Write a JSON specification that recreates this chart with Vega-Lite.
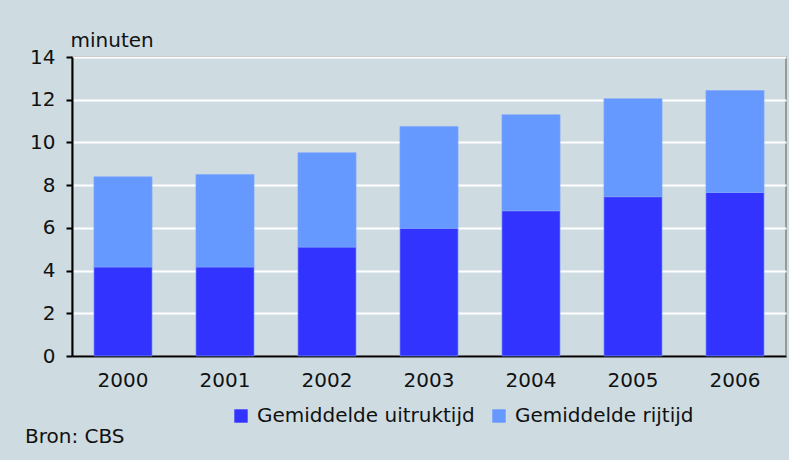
{
  "$schema": "https://vega.github.io/schema/vega-lite/v6.json",
  "width": 714,
  "height": 299,
  "autosize": "none",
  "padding": {"left": 72, "top": 57, "right": 3, "bottom": 104},
  "background": "#cedce2",
  "config": {
    "font": "DejaVu Sans",
    "view": {"stroke": "#999999", "strokeWidth": 2},
    "axis": {"labelFont": "DejaVu Sans", "labelFontSize": 20, "labelColor": "#111111", "titleFont": "DejaVu Sans", "titleFontWeight": "normal"}
  },
  "data": {
    "values": [
      {"jaar": "2000", "type": "Gemiddelde uitruktijd", "minuten": 4.17},
      {"jaar": "2000", "type": "Gemiddelde rijtijd", "minuten": 4.22},
      {"jaar": "2001", "type": "Gemiddelde uitruktijd", "minuten": 4.17},
      {"jaar": "2001", "type": "Gemiddelde rijtijd", "minuten": 4.33},
      {"jaar": "2002", "type": "Gemiddelde uitruktijd", "minuten": 5.1},
      {"jaar": "2002", "type": "Gemiddelde rijtijd", "minuten": 4.42},
      {"jaar": "2003", "type": "Gemiddelde uitruktijd", "minuten": 5.98},
      {"jaar": "2003", "type": "Gemiddelde rijtijd", "minuten": 4.77},
      {"jaar": "2004", "type": "Gemiddelde uitruktijd", "minuten": 6.8},
      {"jaar": "2004", "type": "Gemiddelde rijtijd", "minuten": 4.5},
      {"jaar": "2005", "type": "Gemiddelde uitruktijd", "minuten": 7.46},
      {"jaar": "2005", "type": "Gemiddelde rijtijd", "minuten": 4.59},
      {"jaar": "2006", "type": "Gemiddelde uitruktijd", "minuten": 7.66},
      {"jaar": "2006", "type": "Gemiddelde rijtijd", "minuten": 4.77}
    ]
  },
  "mark": {"type": "bar", "stroke": "#7fa6ff", "strokeWidth": 1, "strokeOpacity": 0.6},
  "encoding": {
    "x": {
      "field": "jaar", "type": "nominal",
      "scale": {"paddingInner": 0.43, "paddingOuter": 0.215},
      "axis": {"title": null, "labelAngle": 0, "ticks": false, "labelPadding": 14, "domainColor": "#000000", "domainWidth": 2, "grid": false, "labelBaseline": "top"}
    },
    "y": {
      "field": "minuten", "type": "quantitative", "stack": "zero",
      "scale": {"domain": [0, 14], "nice": false},
      "axis": {
        "title": "minuten", "titleAngle": 0, "titleAlign": "left", "titleBaseline": "alphabetic",
        "titleX": -2, "titleY": -11, "titleFontSize": 20, "titleColor": "#111111",
        "values": [0, 2, 4, 6, 8, 10, 12, 14],
        "grid": true, "gridColor": "#ffffff", "gridWidth": 2,
        "domainColor": "#000000", "domainWidth": 2, "tickColor": "#000000", "tickWidth": 2, "tickSize": 6,
        "labelPadding": 11
      }
    },
    "color": {
      "field": "type", "type": "nominal",
      "scale": {"domain": ["Gemiddelde uitruktijd", "Gemiddelde rijtijd"], "range": ["#3333ff", "#6699ff"]},
      "legend": {
        "title": null, "orient": "none", "direction": "horizontal", "legendX": 159, "legendY": 349,
        "symbolType": "square", "symbolSize": 180, "symbolStrokeWidth": 0, "symbolOpacity": 1,
        "labelFont": "DejaVu Sans", "labelFontSize": 20, "labelColor": "#111111", "labelOffset": 6,
        "columnPadding": 14, "labelLimit": 400
      }
    },
    "order": {"field": "type", "sort": "descending"}
  },
  "title": {
    "text": "Bron: CBS", "orient": "bottom", "anchor": "start", "font": "DejaVu Sans", "fontSize": 20, "fontWeight": "normal", "color": "#111111", "dx": -47, "offset": 1, "frame": "group"
  }
}
